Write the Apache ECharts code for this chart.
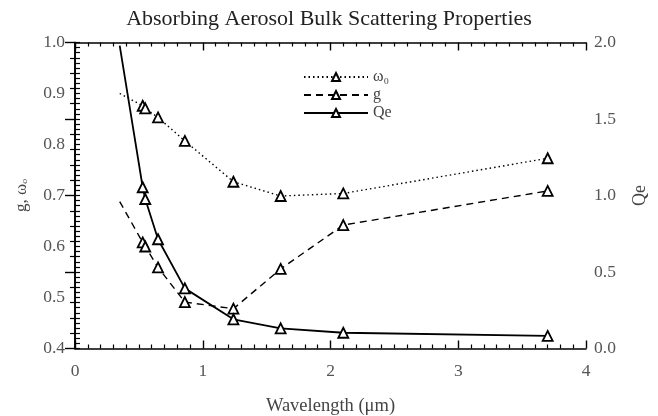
<!DOCTYPE html>
<html>
<head>
<meta charset="utf-8">
<script src="https://cdn.jsdelivr.net/npm/echarts@6/dist/echarts.min.js"></script>
<style>
  html, body { margin: 0; padding: 0; background: #fff; }
  #chart { width: 658px; height: 416px; }
</style>
</head>
<body>
<div id="chart"></div>
<script>
// wavelength (um); first point only starts the line, no marker drawn there
const wavelength = [0.35, 0.53, 0.55, 0.65, 0.86, 1.24, 1.61, 2.10, 3.70];
const omega0 = [0.900, 0.876, 0.871, 0.853, 0.807, 0.727, 0.699, 0.704, 0.773];
const asym = [0.688, 0.608, 0.600, 0.559, 0.491, 0.478, 0.556, 0.642, 0.709];
const qe = [1.98, 1.054, 0.977, 0.714, 0.393, 0.191, 0.132, 0.103, 0.082];

const xTicks = [0, 1, 2, 3, 4];
const leftTicks = [0.4, 0.5, 0.6, 0.7, 0.8, 0.9, 1.0];
const rightTicks = [0.0, 0.5, 1.0, 1.5, 2.0];

const FONT = "Liberation Serif";
const LABEL = "#555";

function pairs(ys) {
  return wavelength.map((w, i) => (i === 0 ? { value: [w, ys[i]], symbol: "none" } : [w, ys[i]]));
}

const chart = echarts.init(document.getElementById("chart"));

const axisLine = { show: true, lineStyle: { color: "#000", width: 1.6 } };
const marker = { color: "#fff", borderColor: "#000", borderWidth: 1.8 };

const option = {
  backgroundColor: "#fff",
  animation: false,
  title: {
    text: "Absorbing Aerosol Bulk Scattering Properties",
    left: "center",
    top: 3,
    textStyle: { fontFamily: FONT, fontSize: 22, fontWeight: "normal", color: "#222" },
  },
  grid: { left: 75, right: 72, top: 42.5, bottom: 67.5, outerBoundsMode: "none" },
  legend: {
    orient: "vertical",
    left: 298,
    top: 64,
    itemWidth: 64,
    itemHeight: 10,
    itemGap: 2,
    textStyle: { fontFamily: FONT, fontSize: 16, color: "#444" },
    data: ["ω₀", "g", "Qe"],
  },
  xAxis: [
    {
      type: "value",
      min: xTicks[0],
      max: xTicks[xTicks.length - 1],
      interval: 1,
      name: "Wavelength (μm)",
      nameLocation: "middle",
      nameGap: 48,
      nameTextStyle: { fontFamily: FONT, fontSize: 18.5, color: "#444" },
      axisLine: axisLine,
      axisTick: { inside: true, length: 8, lineStyle: { color: "#000", width: 1.4 } },
      minorTick: { show: true, splitNumber: 10, length: 4, lineStyle: { color: "#000", width: 1.2 } },
      axisLabel: { margin: 14, fontFamily: FONT, fontSize: 17.5, color: LABEL },
      splitLine: { show: false },
    },
    {
      type: "value",
      position: "top",
      min: xTicks[0],
      max: xTicks[xTicks.length - 1],
      interval: 1,
      axisLine: axisLine,
      axisTick: { inside: true, length: 8, lineStyle: { color: "#000", width: 1.4 } },
      minorTick: { show: true, splitNumber: 10, length: 4, lineStyle: { color: "#000", width: 1.2 } },
      axisLabel: { show: false },
      splitLine: { show: false },
    },
  ],
  yAxis: [
    {
      type: "value",
      min: leftTicks[0],
      max: leftTicks[leftTicks.length - 1],
      interval: 0.1,
      name: "g, ωₒ",
      nameLocation: "middle",
      nameRotate: 90,
      nameGap: 45,
      nameTextStyle: { fontFamily: FONT, fontSize: 17, color: "#444" },
      axisLine: axisLine,
      axisTick: { inside: true, length: 5, lineStyle: { color: "#000", width: 1.2 } },
      minorTick: { show: true, splitNumber: 10, length: 5, lineStyle: { color: "#000", width: 1.2 } },
      axisLabel: {
        margin: 10,
        fontFamily: FONT,
        fontSize: 17.5,
        color: LABEL,
        formatter: (v) => v.toFixed(1),
      },
      splitLine: { show: false },
    },
    {
      type: "value",
      position: "right",
      min: rightTicks[0],
      max: rightTicks[rightTicks.length - 1],
      interval: 0.5,
      name: "Qe",
      nameLocation: "middle",
      nameRotate: 90,
      nameGap: 45,
      nameTextStyle: { fontFamily: FONT, fontSize: 18, color: "#444" },
      axisLine: axisLine,
      axisTick: { inside: true, length: 10, lineStyle: { color: "#000", width: 1.4 } },
      minorTick: { show: true, splitNumber: 5, length: 5, lineStyle: { color: "#000", width: 1.2 } },
      axisLabel: {
        margin: 8,
        fontFamily: FONT,
        fontSize: 17.5,
        color: LABEL,
        formatter: (v) => v.toFixed(1),
      },
      splitLine: { show: false },
    },
  ],
  series: [
    {
      name: "ω₀",
      type: "line",
      data: pairs(omega0),
      symbol: "triangle",
      symbolSize: 10,
      itemStyle: marker,
      lineStyle: { color: "#000", width: 1.4, type: [1.5, 3] },
    },
    {
      name: "g",
      type: "line",
      data: pairs(asym),
      symbol: "triangle",
      symbolSize: 10,
      itemStyle: marker,
      lineStyle: { color: "#000", width: 1.4, type: [7, 5] },
    },
    {
      name: "Qe",
      type: "line",
      yAxisIndex: 1,
      data: pairs(qe),
      symbol: "triangle",
      symbolSize: 10,
      itemStyle: marker,
      lineStyle: { color: "#000", width: 1.8 },
    },
  ],
};

chart.setOption(option);
</script>
</body>
</html>
